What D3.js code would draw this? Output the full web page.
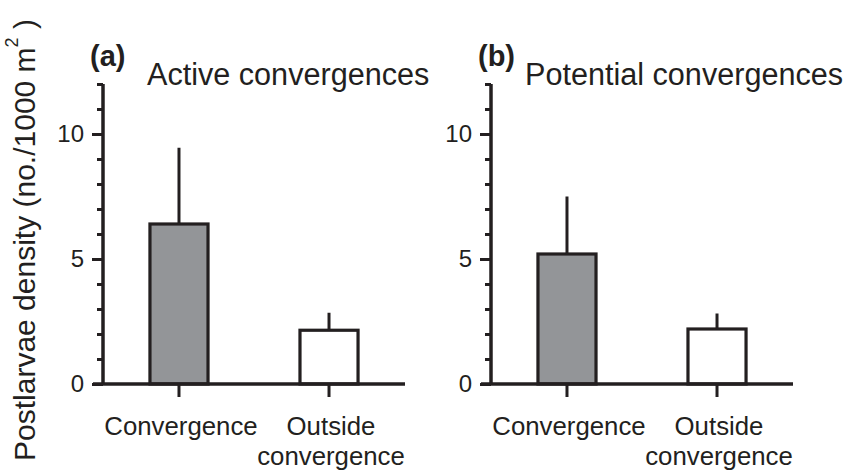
<!DOCTYPE html>
<html>
<head>
<meta charset="utf-8">
<script src="https://cdn.jsdelivr.net/npm/d3@7"></script>
<style>
  html, body { margin: 0; padding: 0; background: #fff; }
  svg text { font-family: "Liberation Sans", Arial, Helvetica, sans-serif; fill: #231f20; }
</style>
</head>
<body>
<svg id="chart" width="844" height="470"></svg>
<script>
// Mean postlarvae density with upper error (mean + SE), per sampling location
const categories = ["Convergence", "Outside convergence"];
const activeMeans = [6.4, 2.15];
const activeUpper = [9.45, 2.85];
const potentialMeans = [5.2, 2.2];
const potentialUpper = [7.5, 2.82];
const yTicksMajor = [0, 5, 10];
const panelLetters = ["(a)", "(b)"];
const panelTitles = ["Active convergences", "Potential convergences"];

const ink = "#231f20";
const fills = ["#939598", "#ffffff"];

const svg = d3.select("#chart");

const panels = [
  { left: 103, right: 405, means: activeMeans, upper: activeUpper, letterX: 90, titleX: 147 },
  { left: 491, right: 793, means: potentialMeans, upper: potentialUpper, letterX: 478, titleX: 525 }
];

const plotTop = 84, plotBottom = 384;
const y = d3.scaleLinear().domain([0, 12]).range([plotBottom, plotTop]);

panels.forEach((p, i) => {
  const g = svg.append("g");
  const x = d3.scaleBand().domain(categories).range([p.left, p.right])
    .paddingInner(0.613).paddingOuter(0.313);

  // bars
  g.selectAll("rect.bar").data(p.means).join("rect")
    .attr("class", "bar")
    .attr("x", (d, j) => x(categories[j]))
    .attr("width", x.bandwidth())
    .attr("y", d => y(d))
    .attr("height", d => y(0) - y(d))
    .attr("fill", (d, j) => fills[j])
    .attr("stroke", ink)
    .attr("stroke-width", 3.2);

  // upper error lines
  g.selectAll("line.err").data(p.means).join("line")
    .attr("class", "err")
    .attr("x1", (d, j) => x(categories[j]) + x.bandwidth() / 2)
    .attr("x2", (d, j) => x(categories[j]) + x.bandwidth() / 2)
    .attr("y1", d => y(d))
    .attr("y2", (d, j) => y(p.upper[j]))
    .attr("stroke", ink)
    .attr("stroke-width", 3);

  // y axis: minor ticks every unit, labelled majors
  const yMinor = d3.axisLeft(y).tickValues(d3.range(0, 13)).tickSize(6).tickFormat("");
  const ga = g.append("g").attr("transform", `translate(${p.left},0)`).call(yMinor);
  ga.select(".domain").remove();
  ga.selectAll("line").attr("stroke", ink).attr("stroke-width", 3);

  const yMajor = d3.axisLeft(y).tickValues(yTicksMajor).tickSize(11).tickPadding(8).tickFormat(d3.format("d"));
  const gm = g.append("g").attr("transform", `translate(${p.left},0)`).call(yMajor);
  gm.select(".domain").remove();
  gm.selectAll("line").attr("stroke", ink).attr("stroke-width", 3);
  gm.selectAll("text").attr("font-size", 24).attr("fill", ink)
    .style("font-family", "'Liberation Sans', Arial, sans-serif");

  // y axis spine
  g.append("line")
    .attr("x1", p.left).attr("x2", p.left)
    .attr("y1", y(12)).attr("y2", y(0))
    .attr("stroke", ink).attr("stroke-width", 3.5);

  // x axis line
  g.append("line")
    .attr("x1", p.left - 10).attr("x2", p.right)
    .attr("y1", y(0)).attr("y2", y(0))
    .attr("stroke", ink).attr("stroke-width", 3.5);

  // x ticks and category labels
  const xAxis = d3.axisBottom(x).tickSize(13).tickFormat("");
  const gx = g.append("g").attr("transform", `translate(0,${y(0)})`).call(xAxis);
  gx.select(".domain").remove();
  gx.selectAll("line").attr("stroke", ink).attr("stroke-width", 3);

  categories.forEach(c => {
    const words = c === "Convergence" ? ["Convergence"] : ["Outside", "convergence"];
    const t = g.append("text")
      .attr("text-anchor", "middle")
      .attr("font-size", 25.8);
    words.forEach((w, k) => {
      t.append("tspan")
        .attr("x", x(c) + x.bandwidth() / 2 + 2)
        .attr("y", 435 + k * 30)
        .text(w);
    });
  });

  // panel letter and title
  g.append("text").attr("x", p.letterX).attr("y", 66)
    .attr("font-size", 29).attr("font-weight", "bold").text(panelLetters[i]);
  g.append("text").attr("x", p.titleX).attr("y", 85)
    .attr("font-size", 30.6).text(panelTitles[i]);
});

// shared y axis title
const yl = svg.append("text")
  .attr("transform", "translate(35,240) rotate(-90)")
  .attr("text-anchor", "middle")
  .attr("font-size", 30);
yl.append("tspan").text("Postlarvae density (no./1000 m");
yl.append("tspan").attr("font-size", 18).attr("dy", -17).text("2");
yl.append("tspan").attr("dy", 17).text(" )");
</script>
</body>
</html>
